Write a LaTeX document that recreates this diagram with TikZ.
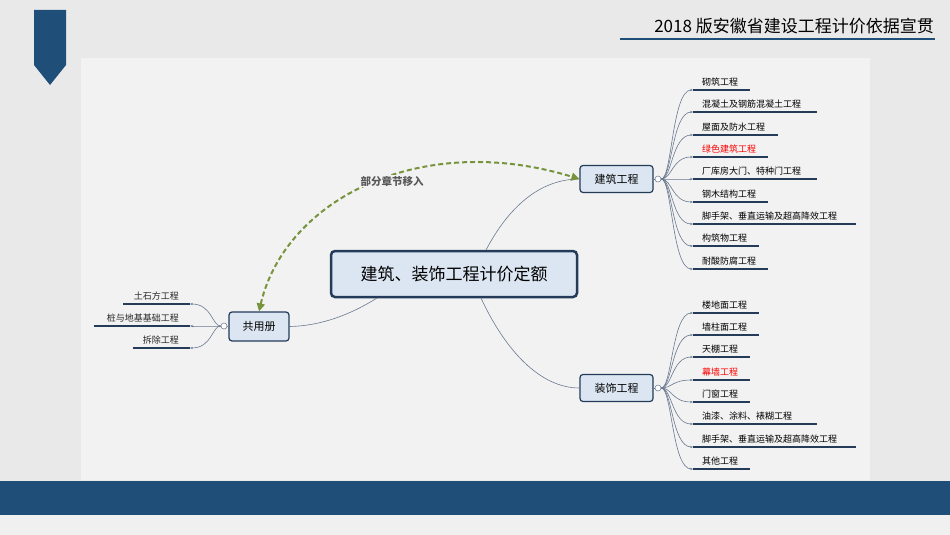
\documentclass[tikz,border=0pt]{standalone}
\usepackage{fontspec}
\setmainfont{Noto Sans CJK SC}
\usetikzlibrary{arrows.meta}
\definecolor{navy}{HTML}{1F4E79}
\definecolor{boxfill}{HTML}{DCE6F2}
\definecolor{boxline}{HTML}{243B5A}
\definecolor{branch}{HTML}{6A7890}
\definecolor{dgreen}{HTML}{77933C}
\tikzset{
  leaf/.style={font=\fontsize{9}{10}\selectfont,inner sep=0pt,text=black!85},
  uline/.style={draw=boxline,line width=1.6pt},
  conn/.style={draw=branch,line width=0.6pt},
  subbox/.style={draw=boxline,fill=boxfill,rounded corners=3pt,line width=1.2pt,font=\fontsize{11}{13}\selectfont},
  knob/.style={circle,draw=branch,fill=white,inner sep=0pt,minimum size=6pt,line width=0.5pt}
}
\begin{document}
\begin{tikzpicture}[x=1pt,y=-1pt]
\useasboundingbox (0,0) rectangle (950,535);
\fill[gray!17] (0,0) rectangle (950,535);
\fill[gray!12] (0,515) rectangle (950,535);
\fill[black!5] (81,58) rectangle (870,480);
\fill[navy] (0,481) rectangle (950,515);
\fill[navy] (34,10) -- (66,10) -- (66,65) -- (50,85) -- (34,65) -- cycle;
\node[anchor=east,font=\fontsize{17}{20}\selectfont,inner sep=0pt] (title) at (934,26) {2018 版安徽省建设工程计价依据宣贯};
\draw[navy,line width=1.2pt] (620,39) -- (935,39);

\node[draw=boxline,fill=boxfill,rounded corners=4pt,line width=2.5pt,minimum width=246pt,minimum height=46pt,font=\fontsize{17}{20}\selectfont] (c) at (454,274) {建筑、装饰工程计价定额};
\node[subbox,minimum width=73pt,minimum height=27pt] (jz) at (616.5,179) {建筑工程};
\node[subbox,minimum width=73pt,minimum height=27pt] (zs) at (616.5,388) {装饰工程};
\node[subbox,minimum width=60pt,minimum height=29pt] (gy) at (259,326.5) {共用册};
\node[knob] (kj) at (658,179) {};
\node[knob] (kz) at (658,388) {};
\node[knob] (kg) at (224,326) {};
\draw[conn] (jz.east) -- (kj);
\draw[conn] (zs.east) -- (kz);
\draw[conn] (gy.west) -- (kg);

\draw[conn] (486,250) .. controls (515,195) and (550,179) .. (jz.west);
\draw[conn] (481,298) .. controls (505,350) and (540,388) .. (zs.west);
\draw[conn] (377,298) .. controls (350,315) and (320,326) .. (gy.east);

% green dashed arrow
\draw[dgreen,line width=2pt,dash pattern=on 5pt off 3pt,{Triangle[length=8pt,width=8pt]}-{Triangle[length=8pt,width=8pt]}]
  (gy.north) .. controls (285,200) and (420,130) .. (jz.west);
\node[font=\bfseries\fontsize{10.5}{12}\selectfont,text=black!65,fill=black!5,inner sep=1pt] (lbl) at (392,181) {部分章节移入};

% right leaves (建筑)
\foreach \i/\y/\e/\t/\c in {1/90/750/砌筑工程/black,2/112/817/混凝土及钢筋混凝土工程/black,3/135/778/屋面及防水工程/black,4/157/768/绿色建筑工程/red,5/179/817/厂库房大门、特种门工程/black,6/202/768/钢木结构工程/black,7/224/856/脚手架、垂直运输及超高降效工程/black,8/246/759/构筑物工程/black,9/269/768/耐酸防腐工程/black}{
  \node[leaf,anchor=base west,text=\c] (a\i) at (702,\y-5) {\t};
  \coordinate (as\i) at (693,\y);
  \coordinate (ae\i) at (\e,\y);
  \draw[uline] (as\i) -- (ae\i);
  \draw[conn,-{Stealth[length=3pt]}] (kj.east) .. controls (672,179) and (672,\y) .. (as\i);
}
% right leaves (装饰)
\foreach \i/\y/\e/\t/\c in {1/313/759/楼地面工程/black,2/335/759/墙柱面工程/black,3/357/750/天棚工程/black,4/380/750/幕墙工程/red,5/402/750/门窗工程/black,6/424/817/油漆、涂料、裱糊工程/black,7/447/856/脚手架、垂直运输及超高降效工程/black,8/469/750/其他工程/black}{
  \node[leaf,anchor=base west,text=\c] (b\i) at (702,\y-5) {\t};
  \coordinate (bs\i) at (693,\y);
  \coordinate (be\i) at (\e,\y);
  \draw[uline] (bs\i) -- (be\i);
  \draw[conn,-{Stealth[length=3pt]}] (kz.east) .. controls (672,388) and (672,\y) .. (bs\i);
}
% left leaves
\foreach \i/\y/\s/\t in {1/304/123/土石方工程,2/326/94/桩与地基基础工程,3/348/133/拆除工程}{
  \node[leaf,anchor=base east] (g\i) at (179,\y-5) {\t};
  \coordinate (gs\i) at (190,\y);
  \coordinate (ge\i) at (\s,\y);
  \draw[uline] (gs\i) -- (ge\i);
  \draw[conn,-{Stealth[length=3pt]}] (kg.west) .. controls (212,326) and (212,\y) .. (gs\i);
}
\end{tikzpicture}
\end{document}
